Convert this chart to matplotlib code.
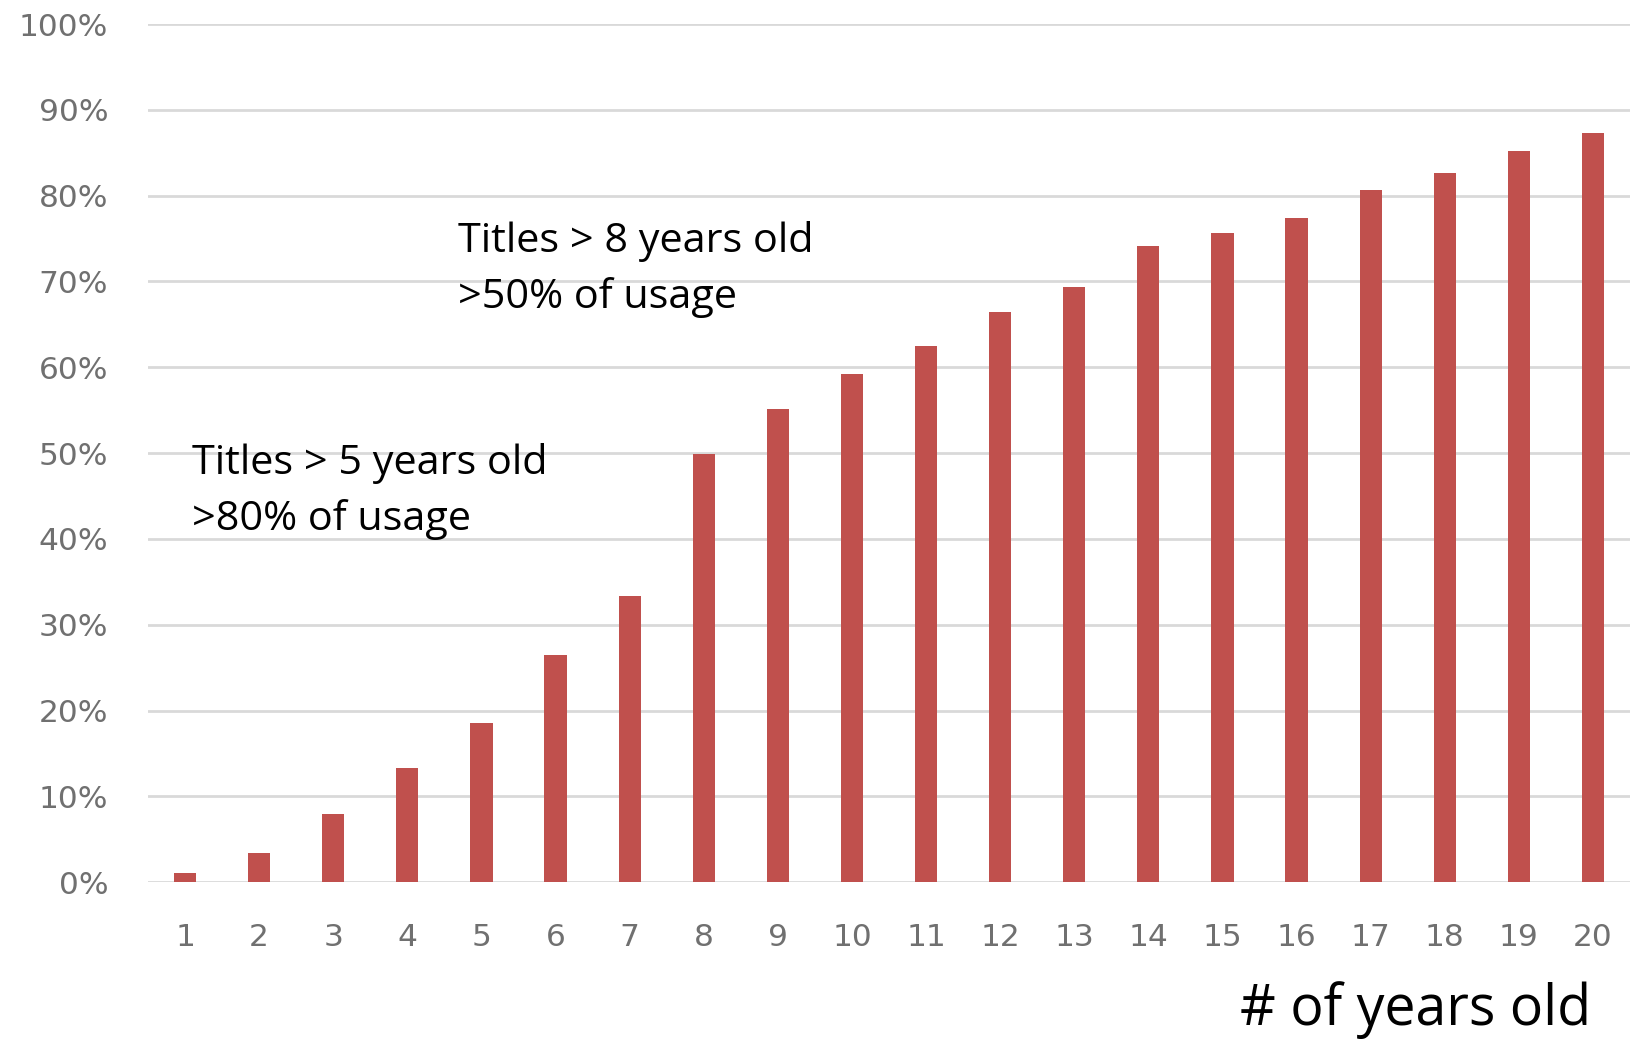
import matplotlib
matplotlib.use("Agg")
import matplotlib.pyplot as plt
from matplotlib.ticker import PercentFormatter

# cumulative share of usage by title age (years)
years = list(range(1, 21))
usage_share = [1.1, 3.4, 8.0, 13.3, 18.6, 26.5, 33.4, 49.9, 55.2, 59.2,
               62.5, 66.5, 69.4, 74.1, 75.7, 77.4, 80.7, 82.6, 85.2, 87.3]
y_ticks = list(range(0, 101, 10))

note_8yr = ["Titles > 8 years old", ">50% of usage"]
note_5yr = ["Titles > 5 years old", ">80% of usage"]
x_title = "# of years old"

BAR_COLOR = "#C0504D"
GRID_COLOR = "#D9D9D9"
TICK_COLOR = "#707070"

plt.rcParams["font.family"] = ["Open Sans", "DejaVu Sans"]

fig = plt.figure(figsize=(16.33, 10.39), dpi=100)
ax = fig.add_axes([0.0906, 0.1508, 0.9076, 0.8261])

ax.bar(years, usage_share, width=0.3, color=BAR_COLOR, zorder=3)

ax.set_xlim(0.5, 20.5)
ax.set_ylim(0, 100)
ax.set_yticks(y_ticks)
ax.yaxis.set_major_formatter(PercentFormatter(decimals=0))
ax.set_xticks(years)
ax.set_xticklabels([str(y) for y in years])

ax.grid(axis="y", color=GRID_COLOR, linewidth=2, zorder=0)
for side in ["top", "right", "left", "bottom"]:
    ax.spines[side].set_visible(False)
ax.tick_params(axis="both", length=0, labelsize=22.5, colors=TICK_COLOR)
ax.tick_params(axis="y", pad=28.5)
ax.tick_params(axis="x", pad=29)
for lbl in ax.get_xticklabels() + ax.get_yticklabels():
    lbl.set_family("DejaVu Sans")

# annotations
for i, line in enumerate(note_8yr):
    fig.text(0.2805, 0.7575 - i * 0.054, line, fontsize=29.8, va="baseline", color="black")
for i, line in enumerate(note_5yr):
    fig.text(0.1174, 0.5438 - i * 0.054, line, fontsize=29.8, va="baseline", color="black")

fig.text(0.7593, 0.0135, x_title, fontsize=40, va="baseline", color="black")

fig.savefig("out.png", dpi=100)
